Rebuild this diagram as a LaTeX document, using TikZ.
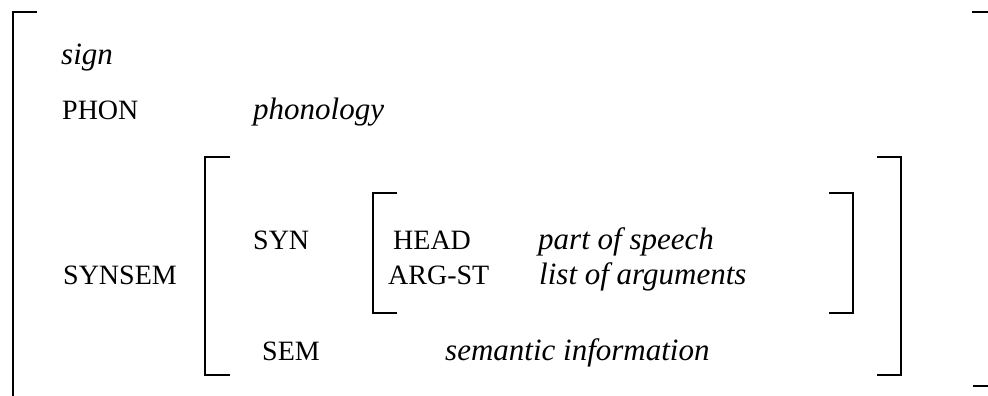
\documentclass[tikz,border=0pt]{standalone}
\usepackage{fontspec}
\setmainfont{Liberation Serif}
\begin{document}
\begin{tikzpicture}[x=1pt,y=-1pt,
  feat/.style={anchor=base west,inner sep=0pt,font=\fontsize{28}{34}\selectfont},
  val/.style={feat,font=\fontsize{31}{37}\selectfont\itshape},
  brk/.style={line width=2pt,line cap=butt}]
\useasboundingbox (0,0) rectangle (988,396);

% outer sign bracket
\draw[brk] (37,12) -- (13,12) -- (13,396);
\draw[brk] (972,12) -- (988,12);
\draw[brk] (973,386) -- (988,386);

% SYNSEM bracket
\draw[brk] (230,157) -- (205,157) -- (205,375) -- (230,375);
\draw[brk] (877,157) -- (901,157) -- (901,375) -- (877,375);

% SYN bracket
\draw[brk] (397,193) -- (373,193) -- (373,313) -- (397,313);
\draw[brk] (829,193) -- (853,193) -- (853,313) -- (829,313);

% labels
\node[val]  (sign)   at (61,65)   {sign};
\node[feat] (phon)   at (62,119)  {PHON};
\node[val]  (phonv)  at (253,119) {phonology};
\node[feat] (synsem) at (63,284)  {SYNSEM};
\node[feat] (syn)    at (253,249) {SYN};
\node[feat] (head)   at (393,249) {HEAD};
\node[val]  (headv)  at (538,249) {part of speech};
\node[feat] (argst)  at (388,284) {ARG-ST};
\node[val]  (argstv) at (539,284) {list of arguments};
\node[feat] (sem)    at (262,360) {SEM};
\node[val]  (semv)   at (445,360) {semantic information};
\end{tikzpicture}
\end{document}
